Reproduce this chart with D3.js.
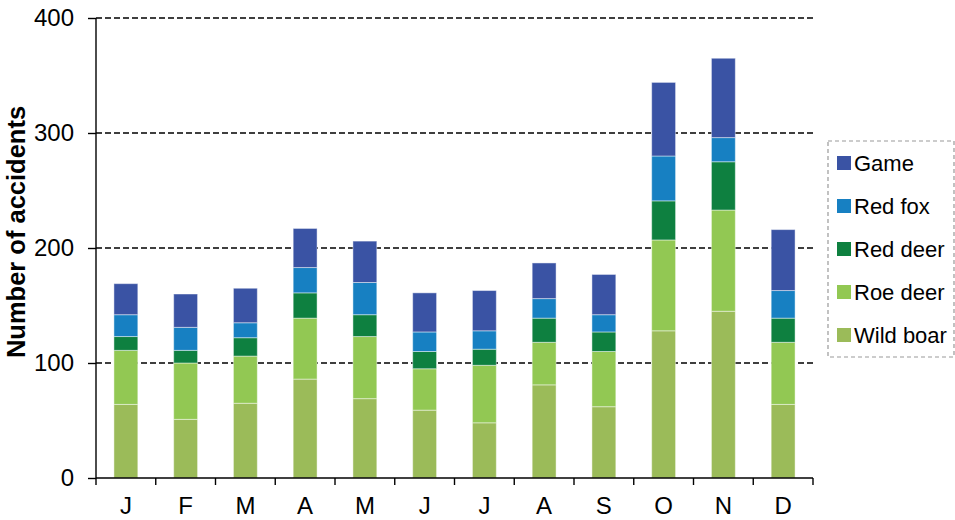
<!DOCTYPE html>
<html>
    <head>
        <meta charset="UTF-8">
        <script src="https://d3js.org/d3.v7.min.js"></script>
        <style>
            body { margin: 0; background: #fff; }
            svg { font-family: "Liberation Sans", Arial, sans-serif; }
        </style>
    </head>

    <body>

        <svg id="canvas"></svg>

        <script>

            months = ["J", "F", "M", "A", "M", "J", "J", "A", "S", "O", "N", "D"];
            species = ["Wild boar", "Roe deer", "Red deer", "Red fox", "Game"];
            colors = ["#9bbb59", "#92c853", "#0e8040", "#1780c2", "#3a53a4"];

            wildBoar = [64, 51, 65, 86, 69, 59, 48, 81, 62, 128, 145, 64];
            roeDeer  = [47, 49, 41, 53, 54, 36, 50, 37, 48, 79, 88, 54];
            redDeer  = [12, 11, 16, 22, 19, 15, 14, 21, 17, 34, 42, 21];
            redFox   = [19, 20, 13, 22, 28, 17, 16, 17, 15, 39, 21, 24];
            game     = [27, 29, 30, 34, 36, 34, 35, 31, 35, 64, 69, 53];

            yTicks = [0, 100, 200, 300, 400];

            width = 955;
            height = 520;
            // note: "top" is read-only on window, so plot* names
            plotLeft = 96; plotRight = 813; plotTop = 18; plotBottom = 478;

            series = [wildBoar, roeDeer, redDeer, redFox, game];
            rows = months.map((m, i) => {
                let r = { i: i, month: m };
                species.forEach((s, k) => r[s] = series[k][i]);
                return r;
            });

            canvas = d3.select("#canvas")
                .attr("width", width)
                .attr("height", height);

            x = d3.scaleBand()
                .domain(d3.range(months.length))
                .range([plotLeft, plotRight])
                .paddingInner(0.6)
                .paddingOuter(0.3);

            y = d3.scaleLinear()
                .domain([0, 400])
                .range([plotBottom, plotTop]);

            // dashed gridlines
            canvas.append("g")
                .selectAll("line")
                .data(yTicks.filter((t) => t > 0))
                .enter()
                    .append("line")
                        .attr("x1", plotLeft)
                        .attr("x2", plotRight)
                        .attr("y1", (d) => y(d))
                        .attr("y2", (d) => y(d))
                        .attr("style", "stroke:#000; stroke-width:1.6; stroke-dasharray:6,3;");

            stack = d3.stack().keys(species);

            canvas.append("g")
                .selectAll("g")
                .data(stack(rows))
                .enter()
                    .append("g")
                        .attr("fill", (d, k) => colors[k])
                    .selectAll("rect")
                    .data((d) => d)
                    .enter()
                        .append("rect")
                            .attr("x", (d) => x(d.data.i))
                            .attr("width", x.bandwidth())
                            .attr("y", (d) => y(d[1]))
                            .attr("height", (d) => y(d[0]) - y(d[1]))
                            .attr("style", "stroke:rgba(255,255,255,0.45); stroke-width:1;");

            // y axis
            yAxis = canvas.append("g")
                .attr("transform", "translate(" + plotLeft + ",0)")
                .call(d3.axisLeft(y).tickValues(yTicks).tickSize(8).tickPadding(14));
            yAxis.select(".domain").attr("d", "M0," + plotTop + "V" + plotBottom);
            yAxis.selectAll("text").attr("font-size", 24).attr("fill", "#000")
                .attr("font-family", "Liberation Sans, Arial, sans-serif");
            yAxis.selectAll("line, path").attr("stroke", "#000").attr("stroke-width", 1.4);

            // x axis
            xTicks = d3.range(months.length + 1).map((i) => plotLeft + i * (plotRight - plotLeft) / months.length);
            canvas.append("line")
                .attr("x1", plotLeft).attr("x2", plotRight)
                .attr("y1", plotBottom).attr("y2", plotBottom)
                .attr("style", "stroke:#000; stroke-width:1.4;");
            canvas.append("g")
                .selectAll("line")
                .data(xTicks)
                .enter()
                    .append("line")
                        .attr("x1", (d) => d).attr("x2", (d) => d)
                        .attr("y1", plotBottom).attr("y2", plotBottom + 7)
                        .attr("style", "stroke:#000; stroke-width:1.4;");
            canvas.append("g")
                .selectAll("text")
                .data(months)
                .enter()
                    .append("text")
                        .attr("x", (d, i) => x(i) + x.bandwidth() / 2)
                        .attr("y", 514)
                        .attr("text-anchor", "middle")
                        .attr("font-size", 24)
                        .text((d) => d);

            canvas.append("text")
                .attr("transform", "translate(25," + 232 + ") rotate(-90)")
                .attr("text-anchor", "middle")
                .attr("font-size", 25.5)
                .attr("font-weight", "bold")
                .text("Number of accidents");

            // legend, Game on top
            legend = canvas.append("g");
            legend.append("rect")
                .attr("x", 828).attr("y", 141)
                .attr("width", 126).attr("height", 216)
                .attr("style", "fill:none; stroke:#999; stroke-width:1.2; stroke-dasharray:4,3;");
            legendItems = species.map((s, k) => ({ name: s, color: colors[k] })).reverse();
            item = legend.selectAll("g.item")
                .data(legendItems)
                .enter()
                    .append("g")
                        .attr("class", "item")
                        .attr("transform", (d, i) => "translate(837," + (163 + i * 43) + ")");
            item.append("rect")
                .attr("x", 0).attr("y", -7)
                .attr("width", 14).attr("height", 14)
                .attr("fill", (d) => d.color);
            item.append("text")
                .attr("x", 17).attr("y", 8)
                .attr("font-size", 22)
                .text((d) => d.name);

        </script>

    </body>

</html>
